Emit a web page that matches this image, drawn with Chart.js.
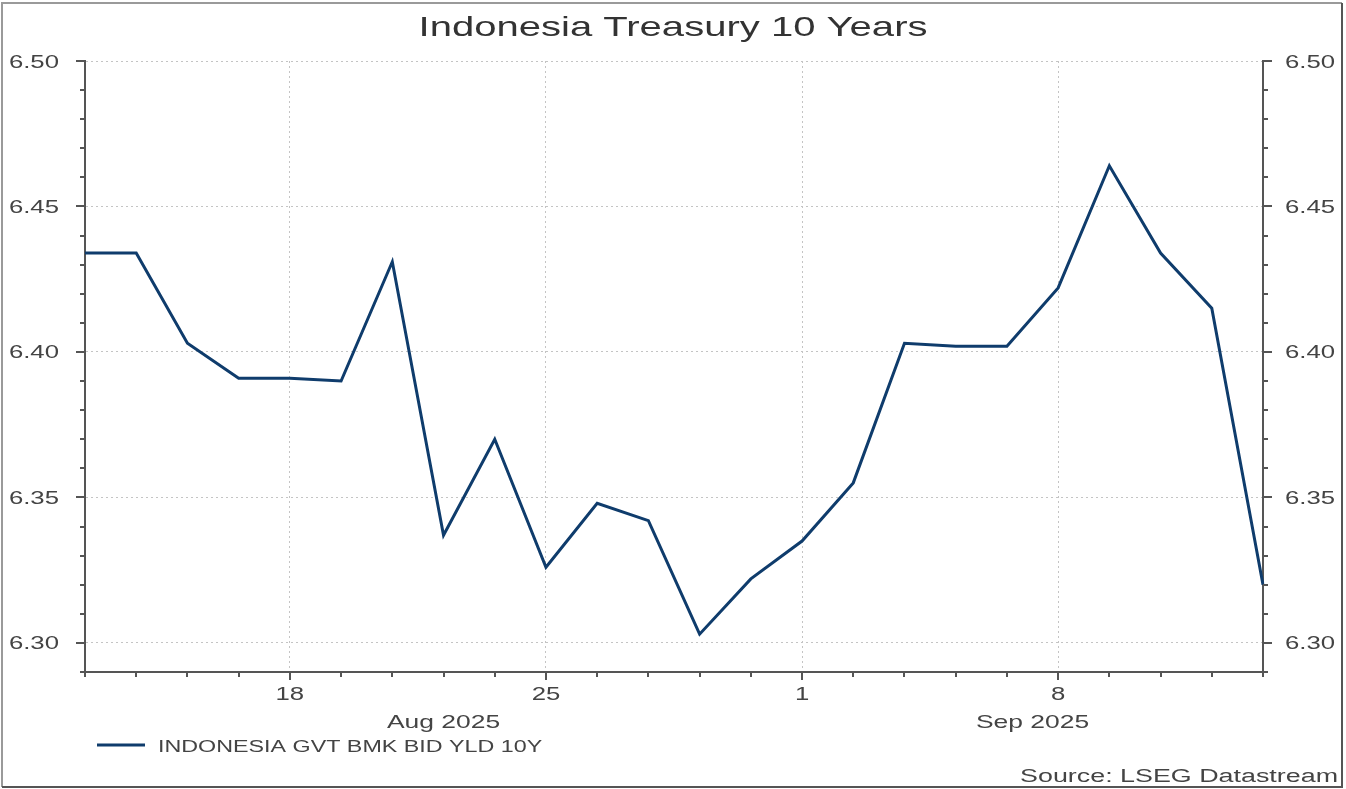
<!DOCTYPE html>
<html><head><meta charset="utf-8">
<script src="https://cdn.jsdelivr.net/npm/chart.js@4.4.1/dist/chart.umd.min.js"></script>
<style>html,body{margin:0;padding:0;background:#fff}canvas{display:block}</style>
</head><body>
<canvas id="c" width="1346" height="789"></canvas>
<script>
const chartTitle = 'Indonesia Treasury 10 Years';
const seriesName = 'INDONESIA GVT BMK BID YLD 10Y';
const sourceText = 'Source: LSEG Datastream';
const dates = ['2025-08-12','2025-08-13','2025-08-14','2025-08-15',
  '2025-08-18','2025-08-19','2025-08-20','2025-08-21','2025-08-22',
  '2025-08-25','2025-08-26','2025-08-27','2025-08-28','2025-08-29',
  '2025-09-01','2025-09-02','2025-09-03','2025-09-04','2025-09-05',
  '2025-09-08','2025-09-09','2025-09-10','2025-09-11','2025-09-12'];
const yields = [6.434,6.434,6.403,6.391,
  6.391,6.390,6.431,6.337,6.370,
  6.326,6.348,6.342,6.303,6.322,
  6.335,6.355,6.403,6.402,6.402,
  6.422,6.464,6.434,6.415,6.320];
const monthNames = ['Jan','Feb','Mar','Apr','May','Jun','Jul','Aug','Sep','Oct','Nov','Dec'];
const yMin = 6.29, yMax = 6.50, yStep = 0.01;

const FONT = '"Liberation Sans", Arial, sans-serif';
const SX = 1.43;            // horizontal stretch of all lettering
const TEXT = '#444';
const LINE = '#0f3c6c';
const AXIS = '#555';
const GRID = '#c4c4c4';

const parseD = s => new Date(s + 'T00:00:00');
const isMonday = i => parseD(dates[i]).getDay() === 1;
const isMajorY = v => Math.round(v * 100) % 5 === 0;
const xLabel = i => isMonday(i) ? String(parseD(dates[i]).getDate()) : '';
const yLabel = v => isMajorY(v) ? v.toFixed(2) : '';

function sText(ctx, txt, x, y, size, align, color) {
  ctx.save();
  ctx.font = size + 'px ' + FONT;
  ctx.fillStyle = color;
  ctx.textAlign = align;
  ctx.textBaseline = 'alphabetic';
  ctx.translate(x, y);
  ctx.scale(SX, 1);
  ctx.fillText(txt, 0, 0);
  ctx.restore();
}

const decor = {
  id: 'decor',
  afterDraw(chart) {
    const ctx = chart.ctx, ca = chart.chartArea;
    const x = chart.scales.x, y = chart.scales.y;
    ctx.save();
    // tick marks
    ctx.strokeStyle = AXIS; ctx.lineWidth = 2;
    ctx.beginPath();
    x.ticks.forEach((t, i) => {
      const px = Math.round(x.getPixelForTick(i));
      ctx.moveTo(px, ca.bottom); ctx.lineTo(px, ca.bottom + (isMonday(i) ? 8 : 5));
    });
    y.ticks.forEach((t, i) => {
      const py = Math.round(y.getPixelForTick(i));
      const len = isMajorY(t.value) ? 9 : 5;
      ctx.moveTo(ca.left, py); ctx.lineTo(ca.left - len, py);
      ctx.moveTo(ca.right, py); ctx.lineTo(ca.right + len, py);
    });
    ctx.stroke();
    ctx.restore();
    // tick labels from the scales
    x.ticks.forEach((t, i) => {
      const s = xLabel(i);
      if (s) sText(ctx, s, x.getPixelForTick(i), ca.bottom + 28, 18, 'center', TEXT);
    });
    y.ticks.forEach((t, i) => {
      const s = yLabel(t.value);
      if (!s) return;
      const py = y.getPixelForTick(i) + 6.5;
      sText(ctx, s, ca.left - 26, py, 18, 'right', TEXT);
      sText(ctx, s, ca.right + 22, py, 18, 'left', TEXT);
    });
    // month labels
    const starts = [];
    dates.forEach((d, i) => {
      const m = parseD(d).getMonth();
      if (i === 0 || parseD(dates[i - 1]).getMonth() !== m) starts.push(i);
    });
    starts.forEach((s, k) => {
      const x0 = x.getPixelForValue(s);
      const x1 = k + 1 < starts.length ? x.getPixelForValue(starts[k + 1]) : ca.right;
      const dd = parseD(dates[s]);
      sText(ctx, monthNames[dd.getMonth()] + ' ' + dd.getFullYear(), (x0 + x1) / 2, 728, 18.5, 'center', TEXT);
    });
    // title
    sText(ctx, chartTitle, 673, 36, 28, 'center', '#333');
    // legend
    ctx.save();
    ctx.strokeStyle = LINE; ctx.lineWidth = 3;
    ctx.beginPath(); ctx.moveTo(97, 745); ctx.lineTo(145, 745); ctx.stroke();
    ctx.restore();
    sText(ctx, seriesName, 158, 751.5, 16.3, 'left', TEXT);
    // source
    sText(ctx, sourceText, 1338, 781.5, 18.8, 'right', TEXT);
    // frame
    ctx.save();
    ctx.lineWidth = 2;
    ctx.strokeStyle = '#9a9a9a';
    ctx.beginPath(); ctx.moveTo(2, 787); ctx.lineTo(2, 3); ctx.lineTo(1342, 3); ctx.stroke();
    ctx.strokeStyle = '#555';
    ctx.beginPath(); ctx.moveTo(1342, 3); ctx.lineTo(1342, 787); ctx.lineTo(2, 787); ctx.stroke();
    ctx.restore();
  }
};

new Chart(document.getElementById('c'), {
  type: 'line',
  data: {
    labels: dates,
    datasets: [{
      label: seriesName,
      data: yields,
      borderColor: LINE,
      borderWidth: 3,
      pointRadius: 0,
      tension: 0,
      fill: false,
      yAxisID: 'y'
    }]
  },
  options: {
    responsive: false,
    animation: false,
    devicePixelRatio: 1,
    layout: { padding: { top: 61, left: 0, right: 0, bottom: 0 } },
    plugins: { legend: { display: false }, title: { display: false }, tooltip: { enabled: false } },
    scales: {
      x: {
        type: 'category',
        offset: false,
        grid: { color: c => (c.index !== undefined && isMonday(c.index)) ? GRID : 'rgba(0,0,0,0)', lineWidth: 1, drawTicks: false },
        border: { display: true, color: AXIS, width: 2, dash: [2, 3] },
        ticks: { display: false, autoSkip: false, maxRotation: 0, minRotation: 0, callback: (v, i) => xLabel(i) },
        afterFit: s => { s.height = 117; }
      },
      y: {
        type: 'linear', position: 'left', min: yMin, max: yMax,
        grid: { color: c => (c.tick && isMajorY(c.tick.value)) ? GRID : 'rgba(0,0,0,0)', lineWidth: 1, drawTicks: false },
        border: { display: true, color: AXIS, width: 2, dash: [2, 3] },
        ticks: { display: false, stepSize: yStep, autoSkip: false, callback: v => yLabel(v) },
        afterFit: s => { s.width = 85; }
      },
      y2: {
        type: 'linear', position: 'right', min: yMin, max: yMax,
        grid: { display: false, drawTicks: false },
        border: { display: true, color: AXIS, width: 2 },
        ticks: { display: false, stepSize: yStep, autoSkip: false, callback: v => yLabel(v) },
        afterFit: s => { s.width = 83; }
      }
    }
  },
  plugins: [decor]
});
</script>
</body></html>
